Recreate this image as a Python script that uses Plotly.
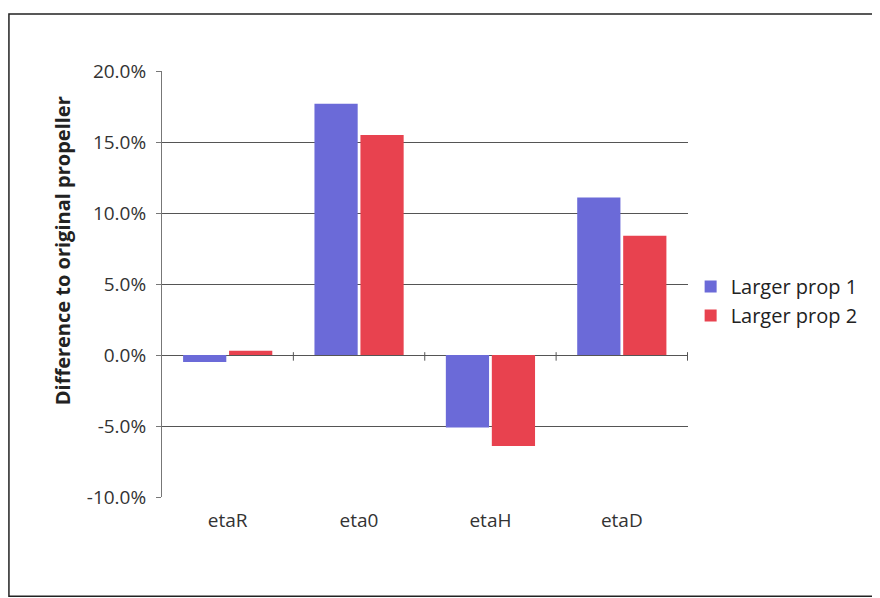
import plotly.graph_objects as go

categories = ["etaR", "eta0", "etaH", "etaD"]
prop1 = [-0.005, 0.177, -0.051, 0.111]
prop2 = [0.003, 0.155, -0.064, 0.084]
series_names = ["Larger prop 1", "Larger prop 2"]
y_ticks = [-0.10, -0.05, 0.0, 0.05, 0.10, 0.15, 0.20]
y_labels = ["-10.0%", "-5.0%", "0.0%", "5.0%", "10.0%", "15.0%", "20.0%"]
y_title = "Difference to original propeller"

font = "Open Sans, Liberation Sans, sans-serif"

fig = go.Figure()
fig.add_trace(go.Bar(x=categories, y=prop1, name=series_names[0],
                     marker=dict(color="#6b6ad8", line=dict(width=0))))
fig.add_trace(go.Bar(x=categories, y=prop2, name=series_names[1],
                     marker=dict(color="#e8424f", line=dict(width=0))))

shapes = []
# tick marks at category boundaries on the zero line
for b in [0.5, 1.5, 2.5, 3.5]:
    shapes.append(dict(type="line", xref="x", yref="y", x0=b, x1=b, y0=0.002, y1=-0.004,
                       line=dict(color="#555", width=1)))
# outer frame
shapes.append(dict(type="rect", xref="paper", yref="paper",
                   x0=-0.291, x1=1.362, y0=-0.233, y1=1.134,
                   line=dict(color="#222", width=1.5)))

fig.update_layout(
    width=872, height=590,
    margin=dict(l=154, r=192, t=63, b=101),
    paper_bgcolor="white", plot_bgcolor="white",
    barmode="group", bargap=0.30, bargroupgap=0.06,
    font=dict(family=font, size=19, color="#333"),
    showlegend=True,
    legend=dict(x=1.005, y=0.46, xanchor="left", yanchor="middle",
                font=dict(size=20, color="#222")),
    xaxis=dict(showgrid=False, showline=False, ticks="",
               ticklabelstandoff=10,
               tickfont=dict(size=19, color="#333")),
    yaxis=dict(range=[-0.10, 0.20], tickvals=y_ticks, ticktext=y_labels,
               showgrid=True, gridcolor="#555", gridwidth=1,
               zeroline=True, zerolinecolor="#555", zerolinewidth=1,
               showline=True, linecolor="#777", linewidth=1,
               ticks="outside", ticklen=5, tickcolor="#777",
               ticklabelstandoff=6,
               tickfont=dict(size=19, color="#333")),
    shapes=shapes,
    annotations=[dict(text="<b>" + y_title + "</b>", xref="paper", yref="paper",
                      x=-0.19, y=0.577, xanchor="center", yanchor="middle",
                      textangle=-90, showarrow=False,
                      font=dict(size=20, color="#222"))],
)

fig.write_html("out.html")
